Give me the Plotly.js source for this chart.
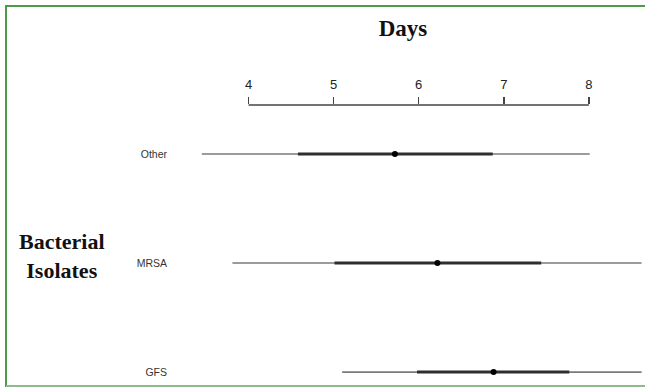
<!DOCTYPE html>
<html>
<head>
<meta charset="utf-8">
<script src="https://cdn.plot.ly/plotly-3.0.1.min.js"></script>
<style>
body{margin:0;padding:0;background:#fff;}
#chart{width:645px;height:388px;position:absolute;left:0;top:0;}
#frameTop{position:absolute;left:6px;top:5px;width:639px;height:0;border-top:2px solid #4e9a48;pointer-events:none;}
#frameLeft{position:absolute;left:5px;top:5px;width:0;height:382px;border-left:2px solid #4e9a48;pointer-events:none;}
#frameBottom{position:absolute;left:6px;top:385px;width:639px;height:0;border-top:2px solid #8dbb8a;pointer-events:none;}
</style>
</head>
<body>
<div id="chart"></div>
<div id="frameTop"></div>
<div id="frameLeft"></div>
<div id="frameBottom"></div>
<script>
// Data
var categories = ['Other', 'MRSA', 'GFS'];
var rangeLow  = [3.45, 3.81, 5.10];
var rangeHigh = [8.01, 8.62, 8.62];
var iqrLow    = [4.58, 5.01, 5.98];
var iqrHigh   = [6.87, 7.44, 7.77];
var medians   = [5.72, 6.22, 6.88];
var tickVals  = [4, 5, 6, 7, 8];
var tickText  = ['4', '5', '6', '7', '8'];
var yPos      = [3, 2, 1];

var traces = [];
for (var i = 0; i < categories.length; i++) {
  traces.push({
    type: 'scatter', mode: 'lines',
    x: [rangeLow[i], rangeHigh[i]], y: [yPos[i], yPos[i]],
    line: {color: '#7a7a7a', width: 1.6},
    hoverinfo: 'skip', showlegend: false
  });
  traces.push({
    type: 'scatter', mode: 'lines',
    x: [iqrLow[i], iqrHigh[i]], y: [yPos[i], yPos[i]],
    line: {color: '#2e2e2e', width: 3},
    hoverinfo: 'skip', showlegend: false
  });
}
traces.push({
  type: 'scatter', mode: 'markers',
  x: medians, y: yPos,
  marker: {color: '#000', size: 6},
  hoverinfo: 'skip', showlegend: false
});

var layout = {
  width: 645, height: 388,
  margin: {l: 170, r: 0, t: 105, b: 0, pad: 0},
  paper_bgcolor: '#fff', plot_bgcolor: '#fff',
  title: {
    text: '<b>Days</b>',
    font: {family: 'Liberation Serif, Times New Roman, serif', size: 23, color: '#111'},
    x: 403/645, xanchor: 'center', xref: 'container',
    y: 1 - 28/388, yanchor: 'middle', yref: 'container'
  },
  xaxis: {
    side: 'top', range: [3.076, 8.66],
    tickvals: tickVals, ticktext: tickText,
    ticks: 'outside', ticklen: 7, tickwidth: 1.5, tickcolor: '#444',
    tickfont: {family: 'Liberation Sans, Arial, sans-serif', size: 13, color: '#222'},
    showline: false, showgrid: false, zeroline: false,
    ticklabelstandoff: 3
  },
  yaxis: {
    range: [0.854, 3.45],
    tickvals: yPos, ticktext: categories,
    ticks: '', showline: false, showgrid: false, zeroline: false,
    tickfont: {family: 'Liberation Sans, Arial, sans-serif', size: 10.5, color: '#333'},
    ticklabelstandoff: 2
  },
  shapes: [{
    type: 'line', xref: 'x', yref: 'paper',
    x0: tickVals[0], x1: tickVals[tickVals.length-1], y0: 1, y1: 1,
    line: {color: '#444', width: 1.5}
  }],
  annotations: [{
    text: '<b>Bacterial<br>Isolates</b>',
    xref: 'paper', yref: 'paper',
    x: -108/475, y: (388-256)/283,
    xanchor: 'center', yanchor: 'middle', showarrow: false,
    font: {family: 'Liberation Serif, Times New Roman, serif', size: 22, color: '#111'},
    align: 'center'
  }]
};

Plotly.newPlot('chart', traces, layout, {displayModeBar: false, staticPlot: true});
</script>
</body>
</html>
